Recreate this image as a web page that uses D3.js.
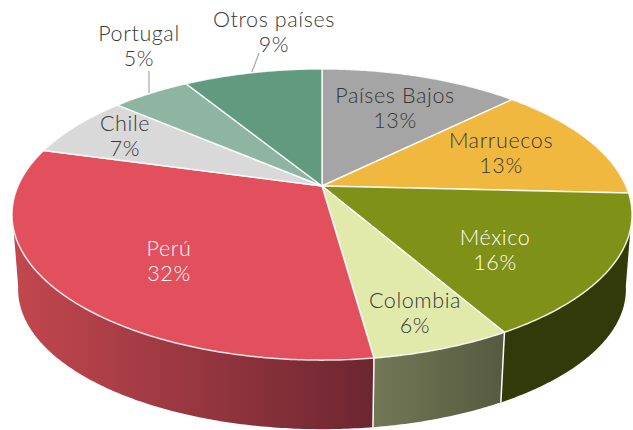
<!doctype html>
<html>
<head>
<meta charset="UTF-8">
<title>pie</title>
<script src="https://d3js.org/d3.v7.min.js"></script>
<style>
  html, body { margin: 0; background: #fff; }
  svg { display: block; }
  text { font-family: Lato, "Open Sans", sans-serif; font-size: 21.5px; font-weight: 300; text-anchor: middle; letter-spacing: 0.6px; }
</style>
</head>
<body>
<svg id="chart" width="633" height="430"></svg>
<script>
var categories = ["Países Bajos", "Marruecos", "México", "Colombia", "Perú", "Chile", "Portugal", "Otros países"];
var values = [12.6, 13.2, 15.9, 6.1, 31.5, 7.0, 4.95, 8.75];
var percentLabels = ["13%", "13%", "16%", "6%", "32%", "7%", "5%", "9%"];
var colors = ["#a5a5a5", "#f1b840", "#7f9116", "#e1eaaa", "#e1505c", "#d9d9d9", "#8db5a1", "#629a80"];
var textColors = ["#383838", "#383838", "#fff", "#383838", "#fff", "#383838", "#383838", "#383838"];
// label centre x and first baseline
var labelX = [395, 501, 495, 415, 169, 125, 139, 274];
var labelY = [103, 148, 245, 308, 256, 131, 41, 27];

var W = 633, H = 430;
var cx = 322;
var persp = 0.196;   // how much nearer edge grows
var svg = d3.select("#chart");

// top face and bottom face of the disc
var topX = d3.scaleLinear().domain([-1, 1]).range([cx - 304, cx + 304]);
var topY = d3.scaleLinear().domain([-1, 1]).range([186 - 140, 186 + 140]);
var botX = d3.scaleLinear().domain([-1, 1]).range([cx - 298, cx + 298]);
var botY = d3.scaleLinear().domain([-1, 1]).range([262 - 134.4, 262 + 134.4]);

function project(sx, sy, a, r) {
    var X = r * Math.sin(a), Y = -r * Math.cos(a);
    var w = 1 - persp * Y;
    return [sx(X / w), sy(Y / w)];
}
function steps(a0, a1) {
    var n = Math.max(2, Math.ceil((a1 - a0) / 0.01));
    return d3.range(n + 1).map(function(i) { return a0 + (a1 - a0) * i / n; });
}

var line = d3.line();
var pie = d3.pie().sort(null).value(function(d) { return d; });
var arcs = pie(values);

var deg = Math.PI / 180;
var wallFrom = 100 * deg, wallTo = 260 * deg;   // silhouette of the side wall

var defs = svg.append("defs");
var wallGrad = {
    3: ["#727856", "#565a40"],
    4: ["#c3474f", "#6c2630"],
    2: ["#323a0a", "#323a0a"]
};
Object.keys(wallGrad).forEach(function(k) {
    var arc = arcs[k];
    var a0 = Math.max(arc.startAngle, wallFrom), a1 = Math.min(arc.endAngle, wallTo);
    // side goes right to left on the front, so the gradient runs over x
    var xs = [project(topX, topY, a0, 1)[0], project(topX, topY, a1, 1)[0]];
    var g = defs.append("linearGradient").attr("id", "wall" + k)
        .attr("gradientUnits", "userSpaceOnUse")
        .attr("x1", d3.min(xs)).attr("x2", d3.max(xs)).attr("y1", 0).attr("y2", 0);
    g.append("stop").attr("offset", 0).attr("stop-color", wallGrad[k][0]);
    g.append("stop").attr("offset", 1).attr("stop-color", wallGrad[k][1]);
});

// side walls
[2, 3, 4].forEach(function(k) {
    var arc = arcs[k];
    var a0 = Math.max(arc.startAngle, wallFrom), a1 = Math.min(arc.endAngle, wallTo);
    var up = steps(a0, a1).map(function(a) { return project(topX, topY, a, 1); });
    var down = steps(a0, a1).reverse().map(function(a) { return project(botX, botY, a, 1); });
    svg.append("path")
        .attr("d", line(up.concat(down)) + "Z")
        .attr("fill", "url(#wall" + k + ")");
});
// white seams on the side
[arcs[3].startAngle, arcs[4].startAngle].forEach(function(a) {
    var p = project(topX, topY, a, 1), q = project(botX, botY, a, 1);
    svg.append("line").attr("x1", p[0]).attr("y1", p[1]).attr("x2", q[0]).attr("y2", q[1])
        .attr("stroke", "#fff").attr("stroke-width", 1.5);
});

// top slices
arcs.forEach(function(arc, i) {
    var pts = [project(topX, topY, 0, 0)].concat(steps(arc.startAngle, arc.endAngle).map(function(a) {
        return project(topX, topY, a, 1);
    }));
    svg.append("path")
        .attr("d", line(pts) + "Z")
        .attr("fill", colors[i])
        .attr("stroke", "#fff")
        .attr("stroke-opacity", 0.85)
        .attr("stroke-width", 1.5)
        .attr("stroke-linejoin", "round");
});

// leader lines for the two outside labels
var leaders = [[6, 149, 71, 149, 93], [7, 259, 53, 252, 72]];
leaders.forEach(function(d) {
    svg.append("line").attr("x1", d[1]).attr("y1", d[2]).attr("x2", d[3]).attr("y2", d[4])
        .attr("stroke", "#a6a6a6").attr("stroke-width", 1.2);
});

// labels
categories.forEach(function(name, i) {
    var t = svg.append("text").attr("fill", textColors[i]);
    t.append("tspan").attr("x", labelX[i]).attr("y", labelY[i]).text(name);
    t.append("tspan").attr("x", labelX[i]).attr("y", labelY[i] + 25).text(percentLabels[i]);
});
</script>
</body>
</html>
